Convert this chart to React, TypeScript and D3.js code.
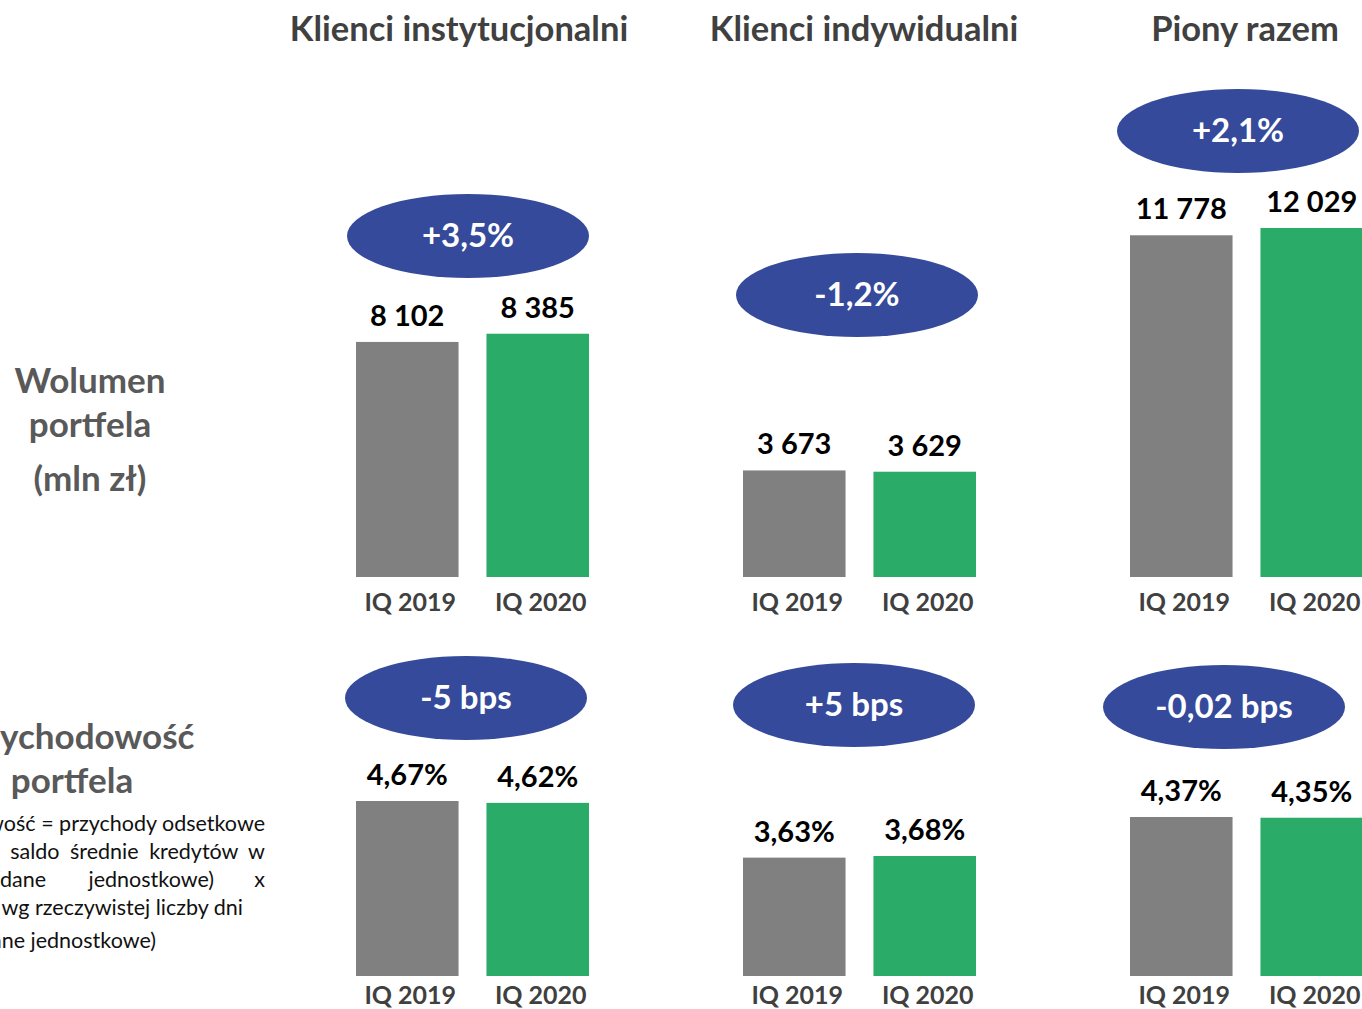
import React from 'react';
import * as d3 from 'd3';

// segments and periods
const columns = ['Klienci instytucjonalni', 'Klienci indywidualni', 'Piony razem'];
const periods = ['IQ 2019', 'IQ 2020'];

// portfolio volume (mln zł)
const volume2019 = [8102, 3673, 11778];
const volume2020 = [8385, 3629, 12029];
const volumeChange = ['+3,5%', '-1,2%', '+2,1%'];

// portfolio yield (%)
const yield2019 = [4.67, 3.63, 4.37];
const yield2020 = [4.62, 3.68, 4.35];
const yieldChange = ['-5 bps', '+5 bps', '-0,02 bps'];

const W = 1362;
const H = 1009;
const FONT = 'Lato, "Open Sans", sans-serif';
const GREY = '#808080';
const GREEN = '#2aab67';
const BLUE = '#354a9a';
const LABEL = '#404040';

const panelLeft = [356, 743, 1130];
const groupWidth = 233;

// layout of the two rows
const rows = [
  {
    base: 577,
    catOffset: 34,
    heights: [349, 349, 349],
    shared: true,
    badgeX: [468, 857, 1238],
    badgeY: [236, 295, 131],
  },
  {
    base: 976,
    catOffset: 28,
    heights: [175, 120, 159],
    shared: false,
    badgeX: [466, 854, 1224],
    badgeY: [698, 705, 707],
  },
];

const fmtVolume = (v: number) => d3.format(',')(v).replace(/,/g, ' ');
const fmtYield = (v: number) => d3.format('.2f')(v).replace('.', ',') + '%';

const Panel = ({ i, values, row, change, fmt }) => {
  const x = d3
    .scaleBand()
    .domain(periods)
    .range([panelLeft[i], panelLeft[i] + groupWidth])
    .paddingInner(0.214)
    .paddingOuter(0);
  const allVals = row.shared ? [...volume2019, ...volume2020] : values;
  const y = d3
    .scaleLinear()
    .domain([0, d3.max(allVals)])
    .range([row.base, row.base - row.heights[i]]);
  const colors = [GREY, GREEN];

  return (
    <g>
      {values.map((v, j) => {
        const bx = x(periods[j]);
        const cx = bx + x.bandwidth() / 2;
        return (
          <g key={j}>
            <rect x={bx} y={y(v)} width={x.bandwidth()} height={row.base - y(v)} fill={colors[j]} />
            <text x={cx} y={y(v) - 16} textAnchor="middle" fontSize={29} fontWeight="bold" fill="#000">
              {fmt(v)}
            </text>
            <text
              x={cx + 3}
              y={row.base + row.catOffset}
              textAnchor="middle"
              fontSize={25}
              fontWeight="bold"
              fill={LABEL}
            >
              {periods[j]}
            </text>
          </g>
        );
      })}
      <ellipse cx={row.badgeX[i]} cy={row.badgeY[i]} rx={121} ry={42} fill={BLUE} />
      <text
        x={row.badgeX[i]}
        y={row.badgeY[i] + 11}
        textAnchor="middle"
        fontSize={33}
        fontWeight="bold"
        fill="#fff"
      >
        {change}
      </text>
    </g>
  );
};

export default function App() {
  const titleX = [459, 864, 1245];
  return (
    <div style={{ position: 'absolute', left: 0, top: 0 }}>
      <svg width={W} height={H} style={{ display: 'block', background: '#fff' }} fontFamily={FONT}>
        {columns.map((c, i) => (
          <text key={c} x={titleX[i]} y={41} textAnchor="middle" fontSize={34.5} fontWeight="bold" fill={LABEL}>
            {c}
          </text>
        ))}

        <g fontSize={35} fontWeight="bold" fill="#595959" textAnchor="middle">
          <text x={90} y={393}>Wolumen</text>
          <text x={90} y={437}>portfela</text>
          <text x={90} y={491}>(mln zł)</text>
          <text x={72} y={749}>Przychodowość</text>
          <text x={72} y={793}>portfela</text>
        </g>

        <g fontSize={21.5} fill="#111">
          <text x={265} y={831} textAnchor="end">(Przychodowość = przychody odsetkowe</text>
          <text x={265} y={859} textAnchor="end" wordSpacing={5}>/ saldo średnie kredytów w</text>
          <text x={46} y={887} textAnchor="end">okresie (dane</text>
          <text x={214} y={887} textAnchor="end">jednostkowe)</text>
          <text x={265} y={887} textAnchor="end">x</text>
          <text x={243} y={915} textAnchor="end">annualizacja wg rzeczywistej liczby dni</text>
          <text x={156} y={948} textAnchor="end">(dane jednostkowe)</text>
        </g>

        {columns.map((c, i) => (
          <Panel
            key={'v' + i}
            i={i}
            values={[volume2019[i], volume2020[i]]}
            row={rows[0]}
            change={volumeChange[i]}
            fmt={fmtVolume}
          />
        ))}
        {columns.map((c, i) => (
          <Panel
            key={'y' + i}
            i={i}
            values={[yield2019[i], yield2020[i]]}
            row={rows[1]}
            change={yieldChange[i]}
            fmt={fmtYield}
          />
        ))}
      </svg>
    </div>
  );
}
